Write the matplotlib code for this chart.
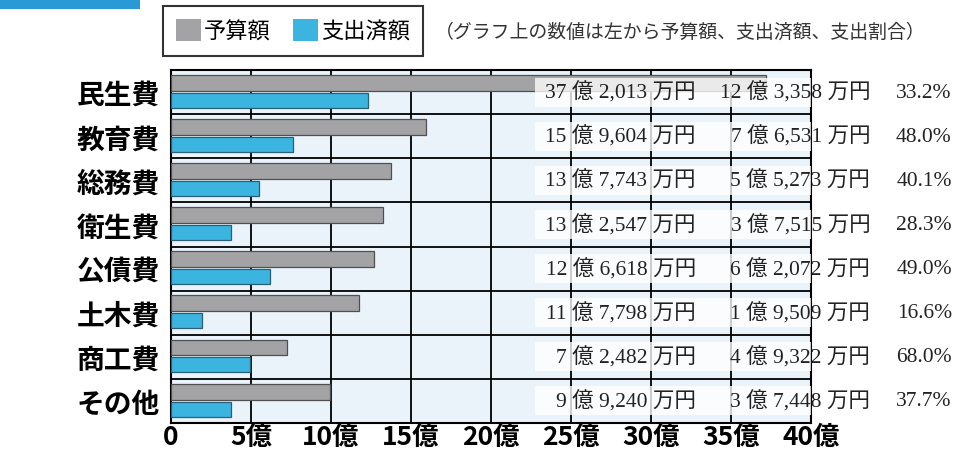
import matplotlib
matplotlib.use("Agg")
import matplotlib.pyplot as plt
from matplotlib.patches import Rectangle
import numpy as np

plt.rcParams['font.family'] = ['Noto Sans CJK JP', 'DejaVu Sans']

categories = ["民生費", "教育費", "総務費", "衛生費", "公債費", "土木費", "商工費", "その他"]
budget_man = [372013, 159604, 137743, 132547, 126618, 117798, 72482, 99240]   # 万円
spent_man = [123358, 76531, 55273, 37515, 62072, 19509, 49322, 37448]         # 万円
ratios = [33.2, 48.0, 40.1, 28.3, 49.0, 16.6, 68.0, 37.7]
xticks = [0, 5, 10, 15, 20, 25, 30, 35, 40]
xticklabels = ["0", "5億", "10億", "15億", "20億", "25億", "30億", "35億", "40億"]
legend_labels = ["予算額", "支出済額"]
note = "（グラフ上の数値は左から予算額、支出済額、支出割合）"

GRAY = "#a3a3a5"
BLUE = "#3bb4e0"

def fmt(man):
    oku, rest = divmod(man, 10000)
    return f"{oku} 億 {rest:,} 万円"

W, H = 954, 452
fig = plt.figure(figsize=(W / 100, H / 100), dpi=100)
ax = fig.add_axes([171 / W, 1 - 424 / H, (811 - 171) / W, (424 - 71) / H])
ax.set_facecolor("#eaf3fa")

n = len(categories)
y = np.arange(n)
budget = np.array(budget_man) / 10000
spent = np.array(spent_man) / 10000

b1 = ax.barh(y + 0.29, budget, height=0.36, color=GRAY, edgecolor="#505050", linewidth=0.9, zorder=3)
b2 = ax.barh(y + 0.685, spent, height=0.34, color=BLUE, edgecolor="#2b5f78", linewidth=0.9, zorder=3)

ax.set_xlim(0, 40)
ax.set_ylim(n, 0)
ax.set_xticks(xticks)
ax.set_xticklabels(xticklabels, fontsize=19, fontweight="bold")
ax.set_yticks(y + 0.5)
ax.set_yticklabels(categories, fontsize=20, fontweight="bold")
ax.tick_params(axis="both", length=0)
ax.tick_params(axis="x", pad=0)
ax.tick_params(axis="y", pad=8)
for xv in xticks[1:-1]:
    ax.axvline(xv, color="black", lw=1.3, zorder=2)
for yv in range(1, n):
    ax.axhline(yv, color="black", lw=1.3, zorder=2)
for s in ax.spines.values():
    s.set_linewidth(1.5)
    s.set_color("black")

serif = ['Liberation Serif', 'Noto Sans CJK JP']
for i in range(n):
    ax.add_patch(Rectangle((22.75, i + 0.17), 17.25, 0.66, facecolor="white", alpha=0.78,
                           edgecolor="none", zorder=4))
    ax.text(32.8, i + 0.5, fmt(budget_man[i]), ha="right", va="center", fontsize=15.5,
            family=serif, color="#222222", zorder=5, clip_on=False)
    ax.text(43.7, i + 0.5, fmt(spent_man[i]), ha="right", va="center", fontsize=15.5,
            family=serif, color="#222222", zorder=5, clip_on=False)
    ax.text(48.8, i + 0.5, f"{ratios[i]:.1f}%", ha="right", va="center", fontsize=15.5,
            family=serif, color="#222222", zorder=5, clip_on=False)

# header accent
fig.patches.append(Rectangle((0, 1 - 10 / H), 140 / W, 10 / H, transform=fig.transFigure,
                             facecolor="#2a9ad6", edgecolor="none"))

# legend
leg = fig.legend([b1, b2], legend_labels, loc="upper left",
                 bbox_to_anchor=(163 / W, 1 - 7 / H), ncol=2, frameon=True, fancybox=False,
                 edgecolor="black", fontsize=16, handlelength=1.1, handleheight=1.1,
                 handletextpad=0.15, columnspacing=1.0, borderpad=0.6, borderaxespad=0)
leg.get_frame().set_linewidth(1.5)
for h, c in zip(leg.legend_handles, [GRAY, BLUE]):
    h.set_edgecolor("none")
    h.set_facecolor(c)

fig.text(435 / W, 1 - 32 / H, note, fontsize=13.6, color="#333333", va="center", ha="left")

fig.savefig("out.png", dpi=100)
